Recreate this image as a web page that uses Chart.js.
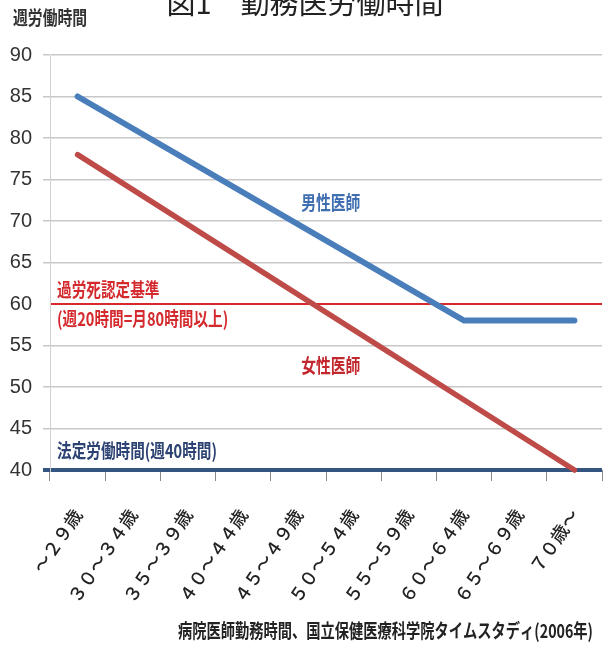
<!DOCTYPE html>
<html lang="ja">
<head>
  <meta charset="UTF-8" />
  <title>図1 勤務医労働時間</title>
  <script src="https://cdn.jsdelivr.net/npm/chart.js"></script>
  <style>
    html, body { margin: 0; padding: 0; background: #ffffff; }
    #wrap { width: 605px; height: 652px; }
  </style>
</head>
<body>
  <div id="wrap"><canvas id="hoursChart" width="605" height="652"></canvas></div>

  <script>
    // age groups on the x axis
    const ageGroups = ['～２９歳', '３０～３４歳', '３５～３９歳', '４０～４４歳', '４５～４９歳',
                       '５０～５４歳', '５５～５９歳', '６０～６４歳', '６５～６９歳', '７０歳～'];
    // weekly hours (gaps are spanned by straight segments)
    const maleHours   = [85, null, null, null, null, null, null, 58, null, 58];
    const femaleHours = [78, null, null, null, null, null, null, null, null, 40];
    // reference levels
    const overworkLevel = 60;   // 過労死認定基準
    const legalLevel = 40;      // 法定労働時間
    const yMin = 40, yMax = 90, yStep = 5;

    const CJK = '"Noto Sans CJK JP", "Noto Sans CJK SC", sans-serif';

    function drawNarrow(ctx, text, x, y, size, color, align, sx, weight) {
      ctx.save();
      ctx.translate(x, y);
      ctx.scale(sx, 1);
      ctx.font = (weight || 'bold') + ' ' + size + 'px ' + CJK;
      ctx.fillStyle = color;
      ctx.textAlign = align || 'left';
      ctx.textBaseline = 'middle';
      ctx.fillText(text, 0, 0);
      ctx.restore();
    }

    const textPlugin = {
      id: 'texts',
      afterDatasetsDraw(chart) {
        const ctx = chart.ctx;
        const xs = chart.scales.x, ys = chart.scales.y;
        const left = chart.chartArea.left;
        // title, cut at the top edge
        drawNarrow(ctx, '図1　勤務医労働時間', 305, 3, 29, '#222222', 'center', 1, 'normal');
        // y axis title
        drawNarrow(ctx, '週労働時間', 13, 18, 19, '#333333', 'left', 0.78);
        // reference line captions
        drawNarrow(ctx, '過労死認定基準', left + 7, ys.getPixelForValue(overworkLevel) - 14, 19, '#d42a2e', 'left', 0.77);
        drawNarrow(ctx, '(週20時間=月80時間以上)', left + 7, ys.getPixelForValue(overworkLevel) + 15, 19, '#d42a2e', 'left', 0.77);
        drawNarrow(ctx, '法定労働時間(週40時間)', left + 7, ys.getPixelForValue(legalLevel) - 19, 19, '#2c4272', 'left', 0.77);
        // series captions
        drawNarrow(ctx, '男性医師', xs.getPixelForValue(4.05), ys.getPixelForValue(72.2), 19, '#3f6fb0', 'left', 0.78);
        drawNarrow(ctx, '女性医師', xs.getPixelForValue(4.05), ys.getPixelForValue(52.5), 19, '#c3282e', 'left', 0.78);
        // source
        drawNarrow(ctx, '病院医師勤務時間、国立保健医療科学院タイムスタディ(2006年)', 593, 631, 19, '#222222', 'right', 0.75);
      }
    };

    new Chart(document.getElementById('hoursChart'), {
      type: 'line',
      data: {
        labels: ageGroups,
        datasets: [
          { label: '男性医師', data: maleHours, borderColor: '#4a7ebb', borderWidth: 6, spanGaps: true,
            pointRadius: 0, tension: 0, borderCapStyle: 'round', clip: false },
          { label: '女性医師', data: femaleHours, borderColor: '#be4b48', borderWidth: 5.5, spanGaps: true,
            pointRadius: 0, tension: 0, borderCapStyle: 'round', clip: false }
        ]
      },
      options: {
        responsive: false,
        animation: false,
        devicePixelRatio: 1,
        layout: { padding: { top: 55, right: 3, left: 0, bottom: 0 } },
        plugins: { legend: { display: false }, title: { display: false }, tooltip: { enabled: false } },
        scales: {
          x: {
            type: 'category',
            offset: true,
            grid: { offset: true, drawOnChartArea: false, drawTicks: true, tickLength: 11, tickColor: '#8a8a8a', tickWidth: 1 },
            border: { display: false },
            ticks: {
              autoSkip: false, minRotation: 56, maxRotation: 56, padding: 24, color: '#222222',
              font: { family: CJK, size: 18, weight: '500' }
            },
            afterFit(s) { s.height = 182; s.paddingLeft = 0; s.paddingRight = 0; }
          },
          y: {
            min: yMin, max: yMax,
            ticks: { stepSize: yStep, padding: 11, color: '#333333', font: { family: '"Liberation Sans", Arial, sans-serif', size: 20 } },
            grid: {
              tickLength: 7,
              color: c => c.tick.value === legalLevel ? '#34557f' : c.tick.value === overworkLevel ? '#d9282c' : '#c8c8c8',
              lineWidth: c => c.tick.value === legalLevel ? 4 : c.tick.value === overworkLevel ? 2 : 1.5,
              tickColor: c => c.tick.value === overworkLevel ? 'rgba(0,0,0,0)' : c.tick.value === legalLevel ? '#34557f' : '#c8c8c8'
            },
            border: { display: true, color: '#d0d0d0', width: 1 },
            afterFit(s) { s.width = 50; }
          }
        }
      },
      plugins: [textPlugin]
    });
  </script>
</body>
</html>
